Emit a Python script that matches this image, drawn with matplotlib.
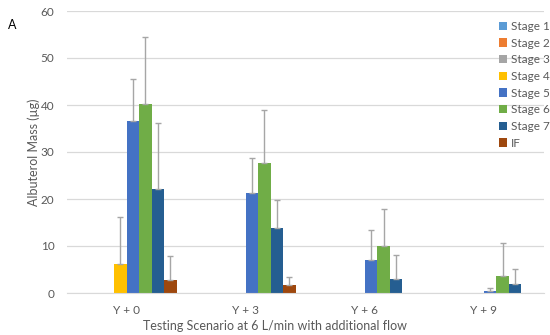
import numpy as np
import matplotlib
matplotlib.use("Agg")
import matplotlib.pyplot as plt
from matplotlib.patches import Patch

plt.rcParams['font.family'] = ['Lato', 'DejaVu Sans']

categories = ["Y + 0", "Y + 3", "Y + 6", "Y + 9"]
series = ["Stage 1", "Stage 2", "Stage 3", "Stage 4", "Stage 5", "Stage 6", "Stage 7", "IF"]
colors = ["#5B9BD5", "#ED7D31", "#A5A5A5", "#FFC000", "#4472C4", "#70AD47", "#255E91", "#9E480E"]

stage1 = [0, 0, 0, 0]
stage2 = [0, 0, 0, 0]
stage3 = [0, 0, 0, 0]
stage4 = [6.1, 0, 0, 0]
stage5 = [36.5, 21.3, 7.0, 0.4]
stage6 = [40.2, 27.6, 9.9, 3.7]
stage7 = [22.1, 13.8, 2.9, 1.85]
stage_if = [2.8, 1.7, 0, 0]

err1 = [0, 0, 0, 0]
err2 = [0, 0, 0, 0]
err3 = [0, 0, 0, 0]
err4 = [10.1, 0, 0, 0]
err5 = [9.0, 7.4, 6.4, 0.7]
err6 = [14.3, 11.3, 8.0, 6.9]
err7 = [14.1, 5.9, 5.2, 3.3]
err_if = [5.1, 1.8, 0, 0]

values = [stage1, stage2, stage3, stage4, stage5, stage6, stage7, stage_if]
errors = [err1, err2, err3, err4, err5, err6, err7, err_if]

fig = plt.figure(figsize=(5.5, 3.35), dpi=100)
ax = fig.add_axes([67/550, 1 - 293/335, (543.5 - 67)/550, (293 - 11)/335])

x = np.arange(len(categories))
w = 0.105
for j, (vals, errs, col, name) in enumerate(zip(values, errors, colors, series)):
    pos = x + (j - 3.5) * w
    v = np.array(vals, dtype=float)
    e = np.array(errs, dtype=float)
    ax.bar(pos, v, width=w, color=col, label=name, zorder=2)
    m = v > 0
    if m.any():
        ax.errorbar(pos[m], v[m], yerr=[np.zeros(m.sum()), e[m]], fmt='none',
                    ecolor='#A6A6A6', elinewidth=1.0, capsize=2, capthick=1.0, zorder=3)

ax.set_xlim(-0.5, 3.5)
ax.set_ylim(0, 60)
ax.set_yticks(np.arange(0, 61, 10))
ax.yaxis.grid(True, color='#D9D9D9', linewidth=0.9, zorder=0)
ax.set_axisbelow(True)
for s in ['top', 'right', 'left']:
    ax.spines[s].set_visible(False)
ax.spines['bottom'].set_color('#D9D9D9')
ax.tick_params(axis='both', length=0, colors='#595959', labelsize=8.5)
ax.tick_params(axis='y', pad=9)
ax.tick_params(axis='x', pad=9)
ax.set_xticks(x)
ax.set_xticklabels(categories)

fig.text(34/550, 1 - 152/335, "Albuterol Mass (µg)", rotation=90, ha='center', va='center',
         color='#595959', fontsize=9)
fig.text(0.5, 1 - 326/335, "Testing Scenario at 6 L/min with additional flow", ha='center', va='center',
         color='#595959', fontsize=9)
fig.text(8/550, 1 - 25/335, "A", ha='left', va='center', color='#000000', fontsize=9)

handles = [Patch(facecolor=c, edgecolor='none') for c in colors]
leg = fig.legend(handles, series, loc='upper left', bbox_to_anchor=(493/550, 1 - 15/335),
                 frameon=False, fontsize=8.5, handlelength=0.7, handleheight=0.7,
                 handletextpad=0.3, labelspacing=0.48, borderpad=0)
for t in leg.get_texts():
    t.set_color('#595959')

fig.savefig("out.png", dpi=100)
